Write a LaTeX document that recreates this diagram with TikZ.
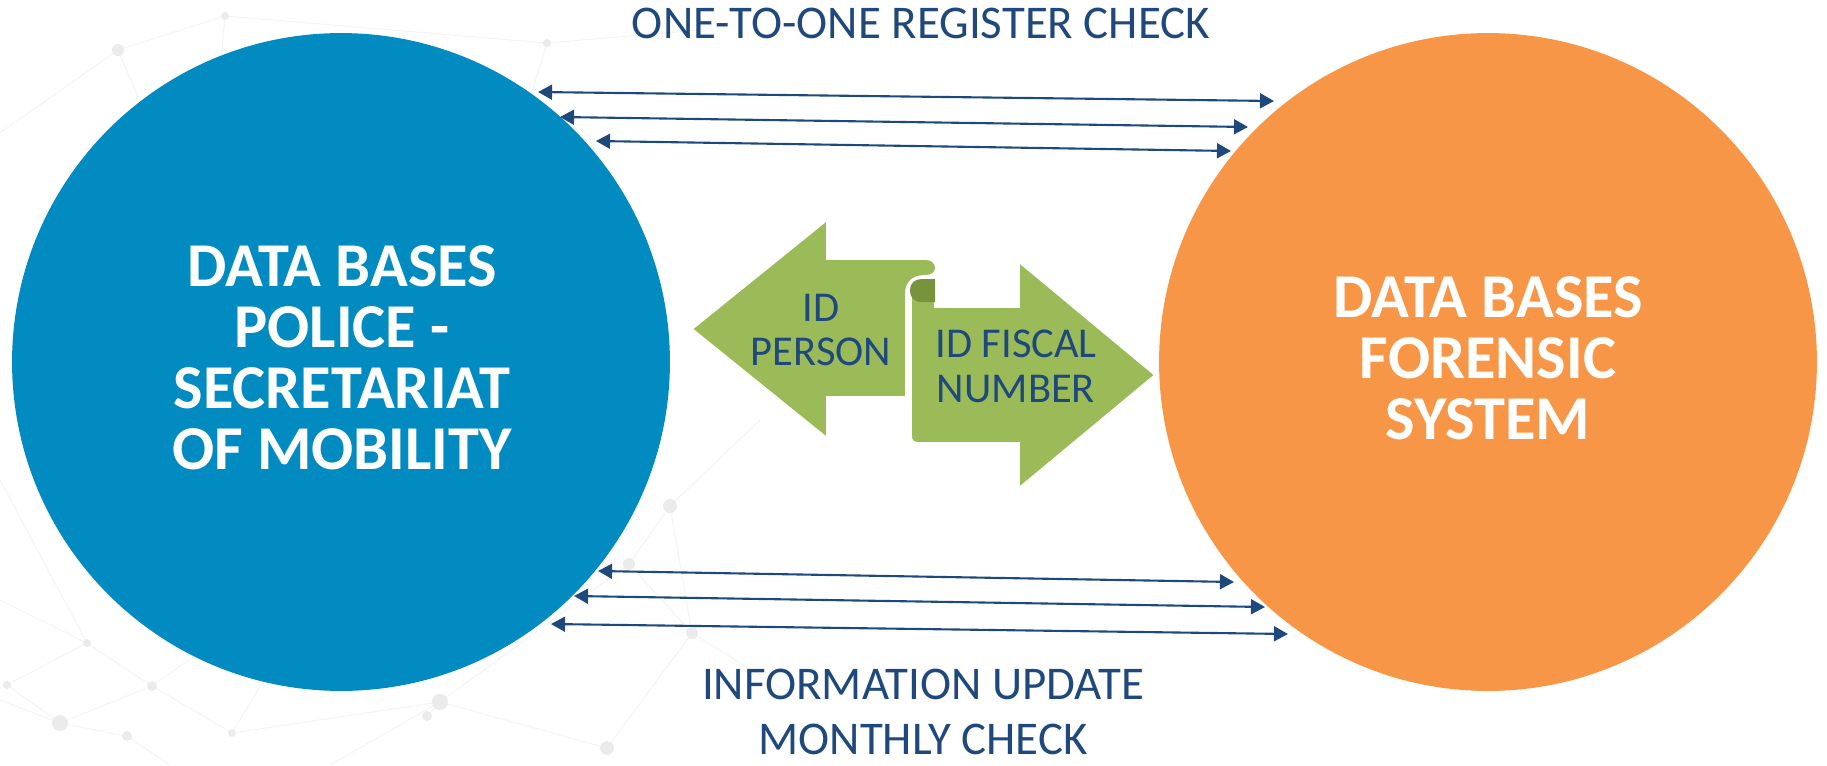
\documentclass[tikz,border=0pt]{standalone}
\usepackage{fontspec}
\setmainfont{Carlito}
\usepackage{tikz}
\usetikzlibrary{arrows.meta}
\definecolor{navy}{RGB}{31,73,125}
\definecolor{policeblue}{RGB}{1,139,193}
\definecolor{forensicorange}{RGB}{247,150,70}
\definecolor{idgreen}{RGB}{155,187,89}
\definecolor{idshade}{RGB}{119,147,60}

\begin{document}
\begin{tikzpicture}[x=0.02cm, y=-0.02cm,
    db/.style={circle, inner sep=0pt, minimum size=13.16cm},
    dbtext/.style={text=white, align=center, font=\bfseries\fontsize{35.5}{34.7}\selectfont},
    caption/.style={text=navy, align=center, font=\fontsize{26.7}{31.6}\selectfont},
    idtext/.style={text=navy, align=center, font=\fontsize{24.2}{25.6}\selectfont},
    link/.style={navy, line width=1.2pt,
      {Triangle[length=8pt,width=8.5pt]}-{Triangle[length=8pt,width=8.5pt]}},
    idarrow/.style={fill=idgreen, draw=white, line width=1pt},
    net/.style={gray!9, line width=0.6pt}]
    \useasboundingbox (0,0) rectangle (1827,765);
    % faint network in the background
    \foreach \p/\q in {{(118,50)}/{(225,16)}, {(225,16)}/{(547,43)}, {(118,50)}/{(0,133)},
        {(118,50)}/{(138,97)}, {(225,16)}/{(221,60)}, {(547,43)}/{(531,95)},
        {(547,43)}/{(700,30)}, {(0,600)}/{(87,643)}, {(87,643)}/{(152,686)},
        {(152,686)}/{(60,723)}, {(60,723)}/{(127,736)}, {(60,723)}/{(0,700)},
        {(87,643)}/{(7,685)}, {(7,685)}/{(60,723)}, {(152,686)}/{(232,733)},
        {(232,733)}/{(440,702)}, {(440,702)}/{(427,716)}, {(440,702)}/{(629,564)},
        {(629,564)}/{(670,506)}, {(670,506)}/{(760,420)}, {(629,564)}/{(692,633)},
        {(692,633)}/{(607,748)}, {(440,702)}/{(607,748)}, {(692,633)}/{(800,700)},
        {(670,506)}/{(692,633)}, {(152,686)}/{(330,560)}, {(440,702)}/{(330,765)},
        {(127,736)}/{(170,765)}, {(232,733)}/{(300,620)}, {(0,480)}/{(87,643)}}
      \draw[net] \p -- \q;
    \foreach \p/\r in {{(118,50)}/6, {(225,16)}/4, {(547,43)}/4, {(670,506)}/7,
        {(629,564)}/6, {(692,633)}/6, {(440,702)}/8, {(427,716)}/5, {(152,686)}/5,
        {(87,643)}/4, {(7,685)}/4, {(60,723)}/8, {(127,736)}/5, {(232,733)}/4,
        {(607,748)}/7}
      \fill[gray!16] \p circle[radius={\r*0.2mm}];
    % the two data bases
    \node[db, fill=policeblue] (police) at (341,362) {};
    \node[db, fill=forensicorange] (forensic) at (1488,362) {};
    \node[dbtext] (policeName) at (342,358) {DATA BASES\\POLICE -\\SECRETARIAT\\OF MOBILITY};
    \node[dbtext] (forensicName) at (1488,358) {DATA BASES\\FORENSIC\\SYSTEM};
    % register checks (top) and monthly updates (bottom)
    \foreach \i/\xa/\ya/\xb/\yb in {1/538/92/1274/101, 2/560/117/1248/127, 3/596/141/1231/151,
        4/598/571/1234/582, 5/574/596/1265/607, 6/551/624/1288/634}{
      \coordinate (l\i) at (\xa,\ya);
      \coordinate (r\i) at (\xb,\yb);
      \draw[link] (l\i) -- (r\i);}
    \node[caption] (registerCheck) at (921,23) {ONE-TO-ONE REGISTER CHECK};
    \node[caption] (monthlyCheck) at (923,712) {INFORMATION UPDATE\\MONTHLY CHECK};
    % the id arrows
    \draw[idarrow] (935,307) -- (1019,307) -- (1019,262) -- (1155,375) -- (1019,488)
      -- (1019,443) -- (919,443) .. controls (913,443) and (911,441) .. (911,435)
      -- (911,291) -- (935,291) -- cycle;
    \fill[idshade] (935,279) -- (935,302) -- (922,302) .. controls (913,302) and (910,297) .. (910,290)
      .. controls (910,283) and (915,279) .. (922,279) -- cycle;
    \draw[idarrow] (692,329) -- (827,220) -- (827,259) -- (926,259)
      .. controls (932,259) and (936,263) .. (936,268) .. controls (936,273) and (932,276) .. (924,276)
      .. controls (913,276) and (906,283) .. (906,293) -- (906,397) -- (827,397) -- (827,438) -- cycle;
    \node[idtext] (idPerson) at (821,330) {ID\\PERSON};
    \node[idtext] (idFiscal) at (1016,366) {ID FISCAL\\NUMBER};
\end{tikzpicture}
\end{document}
